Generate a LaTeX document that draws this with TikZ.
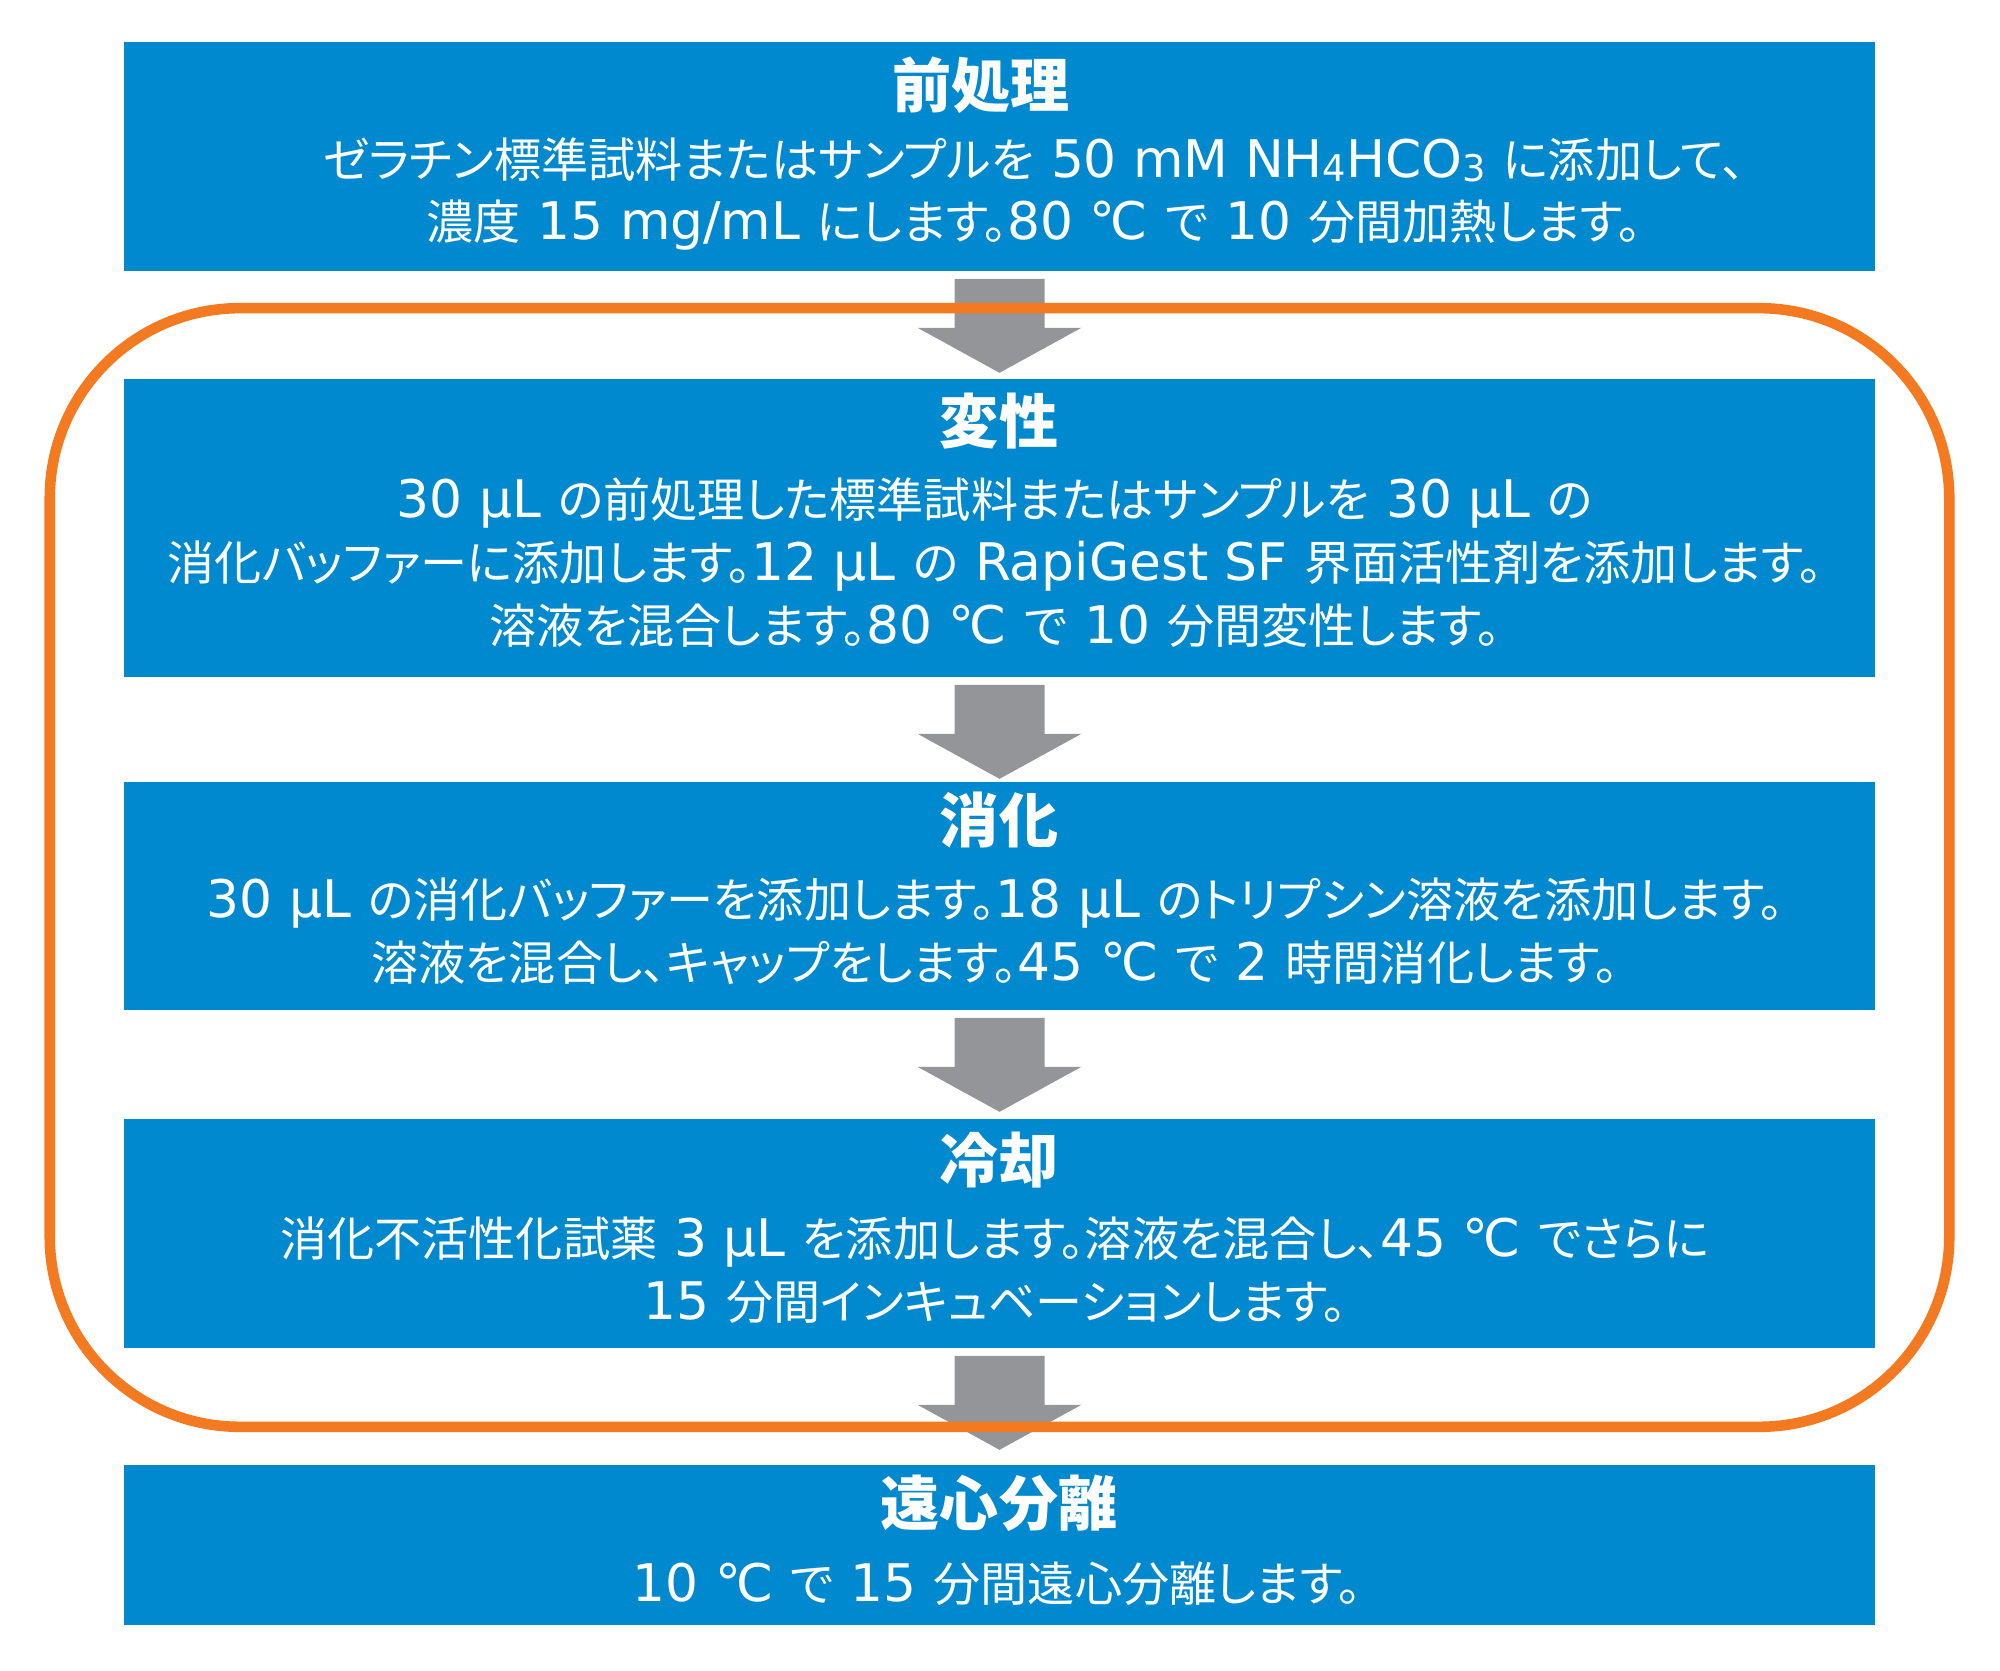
\documentclass[tikz,border=0pt]{standalone}
\usepackage{fontspec}
\setmainfont{Noto Sans CJK JP}[RawFeature=+palt, WordSpace=1.6]
\newfontfamily\en[Scale=1.1]{DejaVu Sans}
\usetikzlibrary{calc, fit}
\definecolor{stepblue}{RGB}{0,137,207}
\definecolor{arrowgray}{RGB}{147,149,152}
\definecolor{frameorange}{RGB}{243,122,33}
\newcommand{\subnum}[1]{\raisebox{-0.15ex}{\fontsize{9.5}{10}\selectfont #1}}

\begin{document}
\begin{tikzpicture}[x=0.01cm, y=-0.01cm,
    box/.style={fill=stepblue, minimum width=17.49cm, inner sep=0pt},
    head/.style={text=white, inner sep=0pt, font=\fontsize{16.8}{20}\selectfont\bfseries},
    body/.style={text=white, inner sep=0pt, align=center, font=\fontsize{13.4}{17.9}\selectfont},
    arr/.style={fill=arrowgray},
    frame/.style={draw=frameorange, line width=3pt, rounded corners=1.9cm, inner xsep=0.74cm, inner ysep=0.74cm}]
  \useasboundingbox (0,0) rectangle (2000,1671);
  % steps
  \node[box, minimum height=2.29cm] (pre) at (999.5,156.5) {};
  \node[box, minimum height=2.98cm] (den) at (999.5,528) {};
  \node[box, minimum height=2.28cm] (dig) at (999.5,896) {};
  \node[box, minimum height=2.29cm] (cool) at (999.5,1233.5) {};
  \node[box, minimum height=1.60cm] (spin) at (999.5,1545) {};
  \node[head] (preH) at (981,85) {前処理};
  \node[body] (preT) at (1034,194) {ゼラチン標準試料またはサンプルを {\en 50 mM NH\subnum{4}HCO\subnum{3}} に添加して、\\濃度 {\en 15 mg/mL} にします。{\en 80 ℃} で {\en 10} 分間加熱します。};
  \node[head] (denH) at (999,421) {変性};
  \node[body] (denT) at (995,563) {{\en 30 µL} の前処理した標準試料またはサンプルを {\en 30 µL} の\\消化バッファーに添加します。{\en 12 µL} の {\en RapiGest SF} 界面活性剤を添加します。\\溶液を混合します。{\en 80 ℃} で {\en 10} 分間変性します。};
  \node[head] (digH) at (999,820) {消化};
  \node[body] (digT) at (995,931) {{\en 30 µL} の消化バッファーを添加します。{\en 18 µL} のトリプシン溶液を添加します。\\溶液を混合し、キャップをします。{\en 45 ℃} で {\en 2} 時間消化します。};
  \node[head] (coolH) at (999,1160) {冷却};
  \node[body] (coolT) at (995,1270) {消化不活性化試薬 {\en 3 µL} を添加します。溶液を混合し、{\en 45 ℃} でさらに\\{\en 15} 分間インキュベーションします。};
  \node[head] (spinH) at (999,1503) {遠心分離};
  \node[body] (spinT) at (997,1584) {{\en 10 ℃} で {\en 15} 分間遠心分離します。};
  % block arrows
  \foreach \a/\b in {pre/den, den/dig, dig/cool, cool/spin}
    \fill[arr] ($(\a.south)+(-45,7)$) -- ($(\a.south)+(45,7)$) -- ($(\a.south)+(45,56)$) -- ($(\a.south)+(82,56)$)
      -- ($(\a.south)!1.01cm!(\b.north)$) -- ($(\a.south)+(-82,56)$) -- ($(\a.south)+(-45,56)$) -- cycle;
  % loop frame
  \node[frame, fit=(den)(cool), yshift=-0.04cm] (loop) {};
\end{tikzpicture}
\end{document}
